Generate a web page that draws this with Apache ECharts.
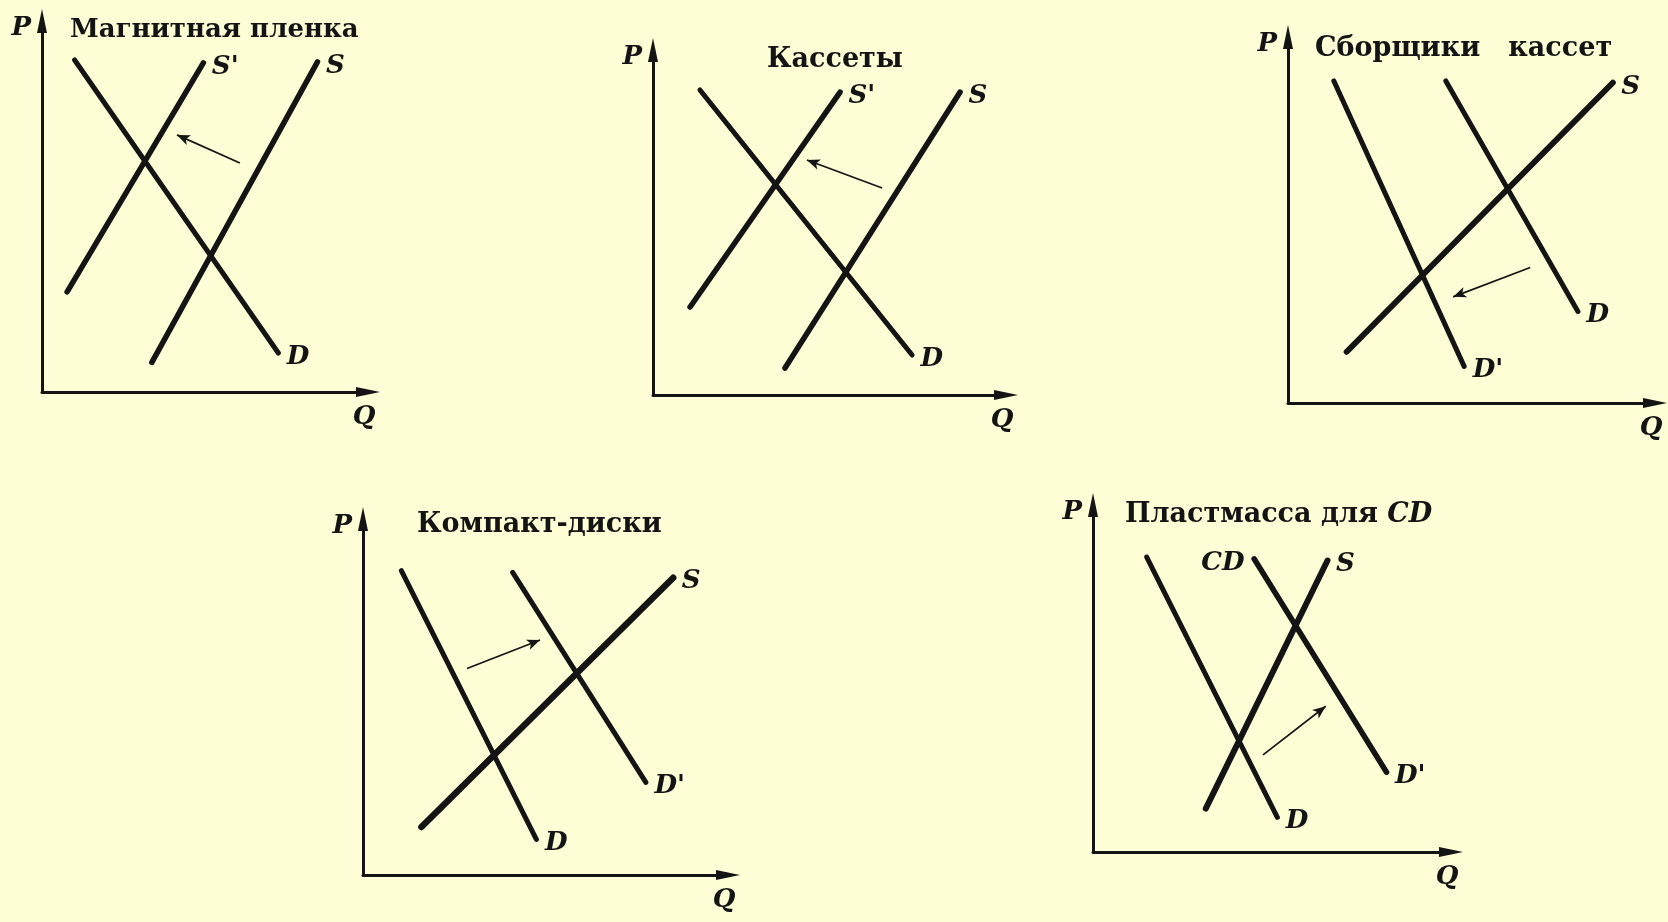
<!DOCTYPE html>
<html>
<head>
<meta charset="utf-8">
<title>Спрос и предложение</title>
<script src="https://cdn.jsdelivr.net/npm/echarts@6/dist/echarts.min.js"></script>
<style>
  html, body { margin: 0; padding: 0; background: #fdfdd6; }
  #main { width: 1668px; height: 922px; }
</style>
</head>
<body>
<div id="main"></div>
<script>
// every panel uses Q on x and P on y, both from 0 to 10
const panelTitles = ["Магнитная пленка", "Кассеты", "Сборщики   кассет", "Компакт-диски", "{a|Пластмасса для }{b|CD}"];

// Магнитная пленка
const filmD = [[1.0, 8.95], [7.25, 1.05]];
const filmS1 = [[0.77, 2.7], [4.95, 8.87]];
const filmS = [[3.37, 0.8], [8.45, 8.9]];
const filmShift = [[6.07, 6.17], [4.14, 6.93]];

// Кассеты
const tapeD = [[1.33, 8.84], [7.34, 1.16]];
const tapeS1 = [[1.05, 2.55], [5.3, 8.78]];
const tapeS = [[3.74, 0.78], [8.7, 8.78]];
const tapeShift = [[6.49, 6.0], [4.36, 6.81]];

// Сборщики кассет
const asmD1 = [[1.25, 8.8], [4.8, 1.0]];
const asmD = [[4.3, 8.8], [7.9, 2.5]];
const asmS = [[1.6, 1.4], [8.85, 8.75]];
const asmShift = [[6.6, 3.7], [4.5, 2.9]];

// Компакт-диски
const cdD = [[1.05, 8.55], [4.75, 1.0]];
const cdD1 = [[4.1, 8.5], [7.75, 2.6]];
const cdS = [[1.6, 1.35], [8.5, 8.35]];
const cdShift = [[2.85, 5.8], [4.85, 6.6]];

// Пластмасса для CD
const plD = [[1.5, 8.5], [5.15, 1.0]];
const plD1 = [[4.5, 8.45], [8.2, 2.3]];
const plS = [[3.15, 1.25], [6.55, 8.4]];
const plShift = [[4.75, 2.8], [6.5, 4.2]];

// grid boxes (origin at the axis corner, ending where the arrow heads start)
const boxes = [
  { left: 42, top: 21, width: 326, height: 371 },
  { left: 653, top: 50, width: 353, height: 345 },
  { left: 1288, top: 37, width: 367, height: 366 },
  { left: 363, top: 519, width: 365, height: 356 },
  { left: 1093, top: 505, width: 358, height: 347 }
];
const titlePos = [[70, 17], [767, 46], [1315, 35], [417, 511], [1125, 501]];
const titleSize = [26, 27, 27, 27, 27];

const ink = "#141414";
const labelFont = { fontFamily: "DejaVu Serif", fontStyle: "italic", fontWeight: "bold", fontSize: 26, color: ink };

function curve(i, pts, name, width, startName) {
  var first = { value: pts[0] };
  if (startName) {
    first.label = { show: true, position: "left", distance: 9, formatter: startName };
  }
  return {
    type: "line",
    xAxisIndex: i,
    yAxisIndex: i,
    data: [first, { value: pts[1], label: { show: true, position: "right", distance: 8, formatter: name } }],
    symbol: "circle",
    symbolSize: 1,
    itemStyle: { color: "transparent" },
    lineStyle: { color: ink, width: width, cap: "round" },
    label: Object.assign({ show: false, offset: [0, 4] }, labelFont),
    silent: true
  };
}

function shift(i, pts) {
  return {
    type: "line",
    xAxisIndex: i,
    yAxisIndex: i,
    data: [],
    silent: true,
    markLine: {
      silent: true,
      symbol: ["none", "arrow"],
      symbolSize: [8, 13],
      label: { show: false },
      lineStyle: { color: ink, width: 1.7, type: "solid" },
      data: [[{ coord: pts[0] }, { coord: pts[1] }]]
    }
  };
}

var grids = [], xAxes = [], yAxes = [], titles = [];
boxes.forEach(function (b, i) {
  grids.push(Object.assign({}, b));
  var axisLine = {
    show: true,
    onZero: false,
    symbol: ["none", "triangle"],
    symbolSize: [10, 24],
    lineStyle: { color: ink, width: 3 }
  };
  xAxes.push({
    gridIndex: i, type: "value", min: 0, max: 10,
    axisLine: axisLine, axisTick: { show: false }, axisLabel: { show: false }, splitLine: { show: false },
    name: "Q", nameLocation: "end", nameGap: -4,
    nameTextStyle: Object.assign({ align: "center", verticalAlign: "top", padding: [12, 0, 0, 0] }, labelFont)
  });
  yAxes.push({
    gridIndex: i, type: "value", min: 0, max: 10,
    axisLine: axisLine, axisTick: { show: false }, axisLabel: { show: false }, splitLine: { show: false },
    name: "P", nameLocation: "end", nameGap: -7,
    nameTextStyle: Object.assign({ align: "right", verticalAlign: "middle", padding: [0, 11, 0, 0] }, labelFont)
  });
  var fs = titleSize[i];
  titles.push({
    text: panelTitles[i],
    left: titlePos[i][0],
    top: titlePos[i][1],
    padding: 0,
    textStyle: {
      fontFamily: "DejaVu Serif", fontWeight: "bold", fontSize: fs, color: ink,
      rich: {
        a: { fontFamily: "DejaVu Serif", fontWeight: "bold", fontSize: fs, color: ink },
        b: { fontFamily: "DejaVu Serif", fontWeight: "bold", fontStyle: "italic", fontSize: fs, color: ink }
      }
    }
  });
});

var series = [
  curve(0, filmD, "D", 5), curve(0, filmS1, "S'", 5.5), curve(0, filmS, "S", 5.5), shift(0, filmShift),
  curve(1, tapeD, "D", 5), curve(1, tapeS1, "S'", 5.5), curve(1, tapeS, "S", 5.5), shift(1, tapeShift),
  curve(2, asmD1, "D'", 5), curve(2, asmD, "D", 5), curve(2, asmS, "S", 6), shift(2, asmShift),
  curve(3, cdD, "D", 5), curve(3, cdD1, "D'", 5), curve(3, cdS, "S", 6.5), shift(3, cdShift),
  curve(4, plD, "D", 5), curve(4, plD1, "D'", 5.5, "CD"), curve(4, plS, "S", 6), shift(4, plShift)
];

var myChart = echarts.init(document.getElementById("main"), null, { renderer: "canvas" });
var option = {
  backgroundColor: "#fdfdd6",
  animation: false,
  title: titles,
  grid: grids,
  xAxis: xAxes,
  yAxis: yAxes,
  series: series
};
myChart.setOption(option);
window.addEventListener("resize", myChart.resize);
</script>
</body>
</html>
